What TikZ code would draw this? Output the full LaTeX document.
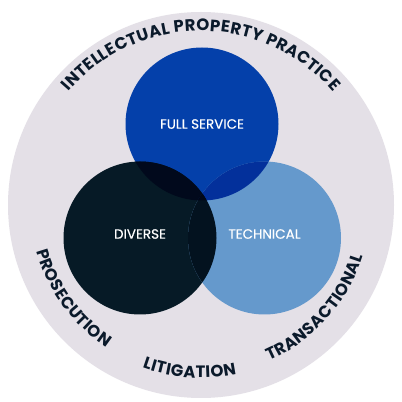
\documentclass[tikz,border=0pt]{standalone}
\usepackage{fontspec}
\newfontfamily\pop{Poppins}
\newfontfamily\popM[FakeBold=0.3]{Poppins}
\usetikzlibrary{decorations.text}
\definecolor{bgc}{RGB}{228,224,231}
\definecolor{ca}{RGB}{4,64,170}
\definecolor{cb}{RGB}{6,26,38}
\definecolor{cc}{RGB}{101,153,204}
\definecolor{cab}{RGB}{1,9,28}
\definecolor{cac}{RGB}{3,48,155}
\definecolor{cbc}{RGB}{3,18,31}
\definecolor{cabc}{RGB}{1,7,24}
\definecolor{tdark}{RGB}{11,26,43}
\newcommand{\arcfont}{\pop\bfseries\fontsize{16.5}{16.5}\selectfont}
\tikzset{
  venn/.style={circle, inner sep=0pt, minimum size=153pt},
  vlabel/.style={text=white, font=\popM\fontsize{13.5}{13.5}\selectfont},
  arctext/.style={decorate, decoration={text effects along path, text={#1},
    text align=center,
    text effects/.cd, text along path,
      characters={text=tdark, font=\arcfont, inner xsep=0.2pt},
      character widths={font=\arcfont, inner xsep=0.2pt}}}
}
\begin{document}
\begin{tikzpicture}[x=1pt,y=1pt]
\useasboundingbox (0,0) rectangle (402,402);
\fill[white] (0,0) rectangle (402,402);
\coordinate (O) at (201,197);
\fill[bgc] (O) circle[radius=193];
% circles
\node[venn, fill=ca] (A) at (202,278) {};
\node[venn, fill=cb] (B) at (140,164) {};
\node[venn, fill=cc] (C) at (264.5,164) {};
\begin{scope}
  \clip (A.center) circle[radius=76.5];
  \fill[cab] (B.center) circle[radius=76.5];
  \fill[cac] (C.center) circle[radius=76.5];
  \clip (B.center) circle[radius=76.5];
  \fill[cabc] (C.center) circle[radius=76.5];
\end{scope}
\begin{scope}
  \clip (B.center) circle[radius=76.5];
  \fill[cbc] (C.center) circle[radius=76.5];
  \clip (A.center) circle[radius=76.5];
  \fill[cabc] (C.center) circle[radius=76.5];
\end{scope}
\node[vlabel] (la) at (A.center) {FULL SERVICE};
\node[vlabel] (lb) at ([yshift=4pt]B.center) {DIVERSE};
\node[vlabel] (lc) at ([yshift=4pt]C.center) {TECHNICAL};
% curved texts
\path[arctext={INTELLECTUAL PROPERTY PRACTICE}] ([shift={(150:174)}]O) arc[start angle=150, end angle=30, radius=174];
\path[arctext={LITIGATION}] ([shift={(230:173)}]O) arc[start angle=230, end angle=302, radius=173];
\path[arctext={PROSECUTION}] ([shift={(180:171)}]O) arc[start angle=180, end angle=252, radius=171];
\path[arctext={TRANSACTIONAL}] ([shift={(278:170)}]O) arc[start angle=278, end angle=358, radius=170];
\end{tikzpicture}
\end{document}
